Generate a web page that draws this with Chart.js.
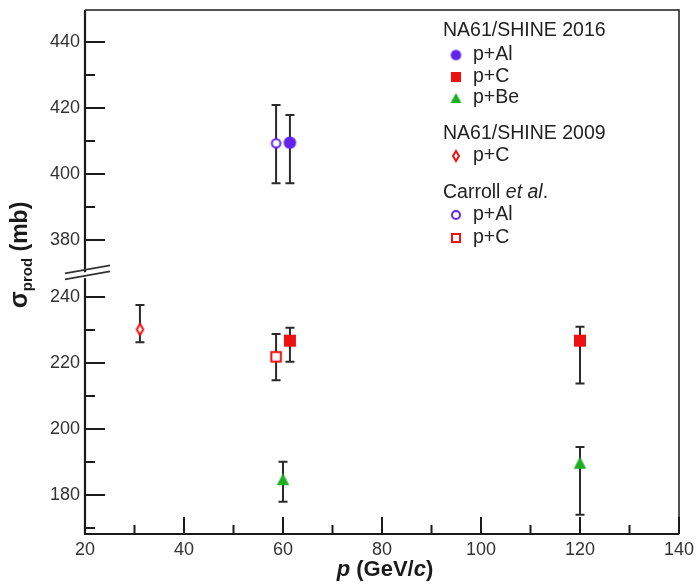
<!DOCTYPE html>
<html><head><meta charset="utf-8">
<script src="https://cdn.jsdelivr.net/npm/chart.js@4"></script>
<style>html,body{margin:0;padding:0;background:#fff}#wrap{width:697px;height:587px;position:relative}</style>
</head><body><div id="wrap"><canvas id="c" width="697" height="587"></canvas></div>
<script>
// ---- tick labels ----
const xTicks = [20, 40, 60, 80, 100, 120, 140];
const xMinor = [30, 50, 70, 90, 110, 130];
const yTicksLower = [180, 200, 220, 240];
const yTicksUpper = [380, 400, 420, 440];
const yMinorLower = [170, 190, 210, 230];
const yMinorUpper = [390, 410, 430];

// ---- data: momentum p (GeV/c), sigma_prod (mb), lower / upper error-bar ends ----
const alP2016 = [61.4];
const alSig2016 = [409.5];
const alLo2016 = [397.2];
const alHi2016 = [417.9];

const cP2016 = [61.4, 120];
const cSig2016 = [226.8, 226.8];
const cLo2016 = [220.4, 213.8];
const cHi2016 = [230.7, 231.0];

const beP2016 = [60, 120];
const beSig2016 = [184.8, 189.8];
const beLo2016 = [178.0, 174.0];
const beHi2016 = [190.1, 194.6];

const cP2009 = [31.1];
const cSig2009 = [230.2];
const cLo2009 = [226.3];
const cHi2009 = [237.6];

const alPCarroll = [58.6];
const alSigCarroll = [409.3];
const alLoCarroll = [397.2];
const alHiCarroll = [420.9];

const cPCarroll = [58.6];
const cSigCarroll = [221.9];
const cLoCarroll = [214.8];
const cHiCarroll = [228.8];

// ---- broken axis ----
const BREAK_SHIFT = 122.7;   // upper segment moved down by this amount
const BREAK_AT = 300;
const toAxis = v => v > BREAK_AT ? v - BREAK_SHIFT : v;
const fromAxis = v => v > 250 ? v + BREAK_SHIFT : v;

const PURPLE = '#6322ee', RED = '#ee1111', GREEN = '#1fae22';
const FONT = "'Liberation Sans', Arial, Helvetica, sans-serif";

function makeMarker(kind, w, h, color, lw) {
  const c = document.createElement('canvas');
  c.width = Math.ceil(w + 4); c.height = Math.ceil(h + 4);
  const g = c.getContext('2d');
  const cx = c.width / 2, cy = c.height / 2;
  g.lineWidth = lw || 2;
  g.strokeStyle = color; g.fillStyle = color;
  g.beginPath();
  if (kind === 'circle' || kind === 'circleOpen') {
    g.arc(cx, cy, kind === 'circle' ? w / 2 : w / 2 - g.lineWidth / 2, 0, Math.PI * 2);
  } else if (kind === 'square' || kind === 'squareOpen') {
    const o = kind === 'square' ? 0 : g.lineWidth / 2;
    g.rect(cx - w / 2 + o, cy - h / 2 + o, w - 2 * o, h - 2 * o);
  } else if (kind === 'triangle') {
    g.moveTo(cx, cy - h / 2); g.lineTo(cx + w / 2, cy + h / 2); g.lineTo(cx - w / 2, cy + h / 2); g.closePath();
  } else if (kind === 'diamondOpen') {
    const a = w / 2 - 1, b = h / 2 - 1;
    g.moveTo(cx, cy - b); g.lineTo(cx + a, cy); g.lineTo(cx, cy + b); g.lineTo(cx - a, cy); g.closePath();
  }
  if (kind.endsWith('Open')) { g.fillStyle = '#fff'; g.fill(); g.stroke(); }
  else g.fill();
  return c;
}

const mk = {
  al2016: makeMarker('circle', 12.5, 12.5, PURPLE),
  c2016: makeMarker('square', 12, 12, RED),
  be2016: makeMarker('triangle', 12.5, 12, GREEN),
  c2009: makeMarker('diamondOpen', 8.5, 13, RED, 2),
  alCar: makeMarker('circleOpen', 10.5, 10.5, PURPLE, 2),
  cCar: makeMarker('squareOpen', 11.5, 11.5, RED, 2)
};
const mkLeg = {
  al2016: makeMarker('circle', 10.5, 10.5, PURPLE),
  c2016: makeMarker('square', 10, 10, RED),
  be2016: makeMarker('triangle', 11, 10, GREEN),
  c2009: makeMarker('diamondOpen', 8, 12, RED, 2),
  alCar: makeMarker('circleOpen', 10, 10, PURPLE, 2),
  cCar: makeMarker('squareOpen', 10, 10, RED, 2)
};

function ds(label, p, sig, lo, hi, marker) {
  return {
    label,
    data: p.map((x, i) => ({ x, y: toAxis(sig[i]) })),
    errLo: lo.map(toAxis), errHi: hi.map(toAxis),
    pointStyle: marker, pointRadius: 7, pointHoverRadius: 7,
    showLine: false
  };
}

const datasets = [
  ds('NA61/SHINE 2009 p+C', cP2009, cSig2009, cLo2009, cHi2009, mk.c2009),
  ds('Carroll et al. p+Al', alPCarroll, alSigCarroll, alLoCarroll, alHiCarroll, mk.alCar),
  ds('Carroll et al. p+C', cPCarroll, cSigCarroll, cLoCarroll, cHiCarroll, mk.cCar),
  ds('NA61/SHINE 2016 p+Al', alP2016, alSig2016, alLo2016, alHi2016, mk.al2016),
  ds('NA61/SHINE 2016 p+C', cP2016, cSig2016, cLo2016, cHi2016, mk.c2016),
  ds('NA61/SHINE 2016 p+Be', beP2016, beSig2016, beLo2016, beHi2016, mk.be2016)
];

const AXIS = '#1a1a1a';

const rootPlugin = {
  id: 'rootStyle',
  beforeDatasetsDraw(chart) {
    const { ctx, chartArea: a, scales: { x, y } } = chart;
    ctx.save();
    // error bars
    ctx.strokeStyle = '#2a2a2a'; ctx.lineWidth = 2;
    chart.data.datasets.forEach((d, di) => {
      const meta = chart.getDatasetMeta(di);
      meta.data.forEach((pt, i) => {
        const px = pt.x;
        const yl = y.getPixelForValue(d.errLo[i]);
        const yh = y.getPixelForValue(d.errHi[i]);
        ctx.beginPath();
        ctx.moveTo(px, yl); ctx.lineTo(px, yh);
        ctx.moveTo(px - 4.5, yl); ctx.lineTo(px + 4.5, yl);
        ctx.moveTo(px - 4.5, yh); ctx.lineTo(px + 4.5, yh);
        ctx.stroke();
      });
    });
    ctx.restore();
  },
  afterDraw(chart) {
    const { ctx, chartArea: a, scales: { x, y } } = chart;
    ctx.save();
    // frame
    ctx.strokeStyle = AXIS;
    ctx.lineWidth = 1.5;
    ctx.beginPath();
    ctx.moveTo(a.left, a.top); ctx.lineTo(a.right, a.top); ctx.lineTo(a.right, a.bottom);
    ctx.stroke();
    ctx.lineWidth = 2.2;
    ctx.beginPath();
    ctx.moveTo(a.left, a.top); ctx.lineTo(a.left, a.bottom); ctx.lineTo(a.right, a.bottom);
    ctx.stroke();
    // ticks (inside)
    ctx.lineWidth = 2;
    ctx.beginPath();
    xTicks.forEach(v => { const px = x.getPixelForValue(v); ctx.moveTo(px, a.bottom); ctx.lineTo(px, a.bottom - 17); });
    xMinor.forEach(v => { const px = x.getPixelForValue(v); ctx.moveTo(px, a.bottom); ctx.lineTo(px, a.bottom - 9); });
    [...yTicksLower, ...yTicksUpper].forEach(v => { const py = y.getPixelForValue(toAxis(v)); ctx.moveTo(a.left, py); ctx.lineTo(a.left + 20, py); });
    [...yMinorLower, ...yMinorUpper].forEach(v => { const py = y.getPixelForValue(toAxis(v)); ctx.moveTo(a.left, py); ctx.lineTo(a.left + 10, py); });
    ctx.stroke();
    // axis break
    const by = y.getPixelForValue(248.4);
    ctx.fillStyle = '#fff';
    ctx.beginPath();
    ctx.moveTo(a.left - 20, by - 0.5 + 7); ctx.lineTo(a.left + 25, by - 0.5 - 1);
    ctx.lineTo(a.left + 25, by + 5.5 - 1); ctx.lineTo(a.left - 20, by + 5.5 + 7); ctx.closePath();
    ctx.fill();
    ctx.strokeStyle = '#333'; ctx.lineWidth = 1.6;
    ctx.beginPath();
    ctx.moveTo(a.left - 20, by + 4); ctx.lineTo(a.left + 25, by - 4);
    ctx.moveTo(a.left - 20, by + 10); ctx.lineTo(a.left + 25, by + 2);
    ctx.stroke();

    // axis titles
    ctx.fillStyle = '#1a1a1a';
    ctx.textBaseline = 'alphabetic';
    const parts = [
      ['italic bold 22px ' + FONT, 'p'],
      ['bold 22px ' + FONT, ' (GeV/'],
      ['italic bold 22px ' + FONT, 'c'],
      ['bold 22px ' + FONT, ')']
    ];
    let tw = 0;
    parts.forEach(p => { ctx.font = p[0]; tw += ctx.measureText(p[1]).width; });
    let cx = 385 - tw / 2;
    parts.forEach(p => { ctx.font = p[0]; ctx.fillText(p[1], cx, 576); cx += ctx.measureText(p[1]).width; });
    ctx.save();
    ctx.translate(27, 255);
    ctx.rotate(-Math.PI / 2);
    const yp = [
      ['bold 25px ' + FONT, 'σ', 0],
      ['bold 15px ' + FONT, 'prod', 5],
      ['bold 23px ' + FONT, ' (mb)', 0]
    ];
    let yw = 0;
    yp.forEach(p => { ctx.font = p[0]; yw += ctx.measureText(p[1]).width; });
    let ty = -yw / 2;
    yp.forEach(p => { ctx.font = p[0]; ctx.fillText(p[1], ty, p[2]); ty += ctx.measureText(p[1]).width; });
    ctx.restore();

    // legend
    const LX = 443, MX = 456, TX = 473;
    ctx.textBaseline = 'middle';
    ctx.fillStyle = '#222';
    const nf = '19.5px ' + FONT, itf = 'italic 19.5px ' + FONT;
    const head = (txt, yy) => { ctx.font = nf; ctx.fillText(txt, LX, yy); };
    const entry = (m, txt, yy) => {
      ctx.drawImage(m, MX - m.width / 2, yy - m.height / 2);
      ctx.font = nf; ctx.fillText(txt, TX, yy);
    };
    head('NA61/SHINE 2016', 31);
    entry(mkLeg.al2016, 'p+Al', 55);
    entry(mkLeg.c2016, 'p+C', 77);
    entry(mkLeg.be2016, 'p+Be', 98);
    head('NA61/SHINE 2009', 134);
    entry(mkLeg.c2009, 'p+C', 156);
    ctx.font = nf; ctx.fillText('Carroll ', LX, 193);
    let w1 = ctx.measureText('Carroll ').width;
    ctx.font = itf; ctx.fillText('et al', LX + w1, 193);
    let w2 = ctx.measureText('et al').width;
    ctx.font = nf; ctx.fillText('.', LX + w1 + w2, 193);
    entry(mkLeg.alCar, 'p+Al', 215);
    entry(mkLeg.cCar, 'p+C', 238);
    ctx.restore();
  }
};

new Chart(document.getElementById('c'), {
  type: 'scatter',
  data: { datasets },
  options: {
    responsive: false,
    animation: false,
    events: [],
    layout: { padding: { left: 0, top: 10, right: 18, bottom: 0 } },
    plugins: { legend: { display: false }, tooltip: { enabled: false }, title: { display: false } },
    scales: {
      x: {
        type: 'linear', min: 20, max: 140,
        afterBuildTicks: s => { s.ticks = xTicks.map(v => ({ value: v })); },
        afterFit: s => { s.height = 53; s.paddingLeft = 0; s.paddingRight = 0; s.paddingTop = 0; s.paddingBottom = 0; },
        grid: { display: false, drawTicks: false },
        border: { display: false },
        ticks: { font: { family: FONT, size: 18 }, color: '#333', padding: 5, maxRotation: 0, autoSkip: false }
      },
      y: {
        type: 'linear', min: 168.2, max: 327,
        afterBuildTicks: s => { s.ticks = [...yTicksLower, ...yTicksUpper].map(v => ({ value: toAxis(v) })); },
        afterFit: s => { s.width = 85; s.paddingTop = 0; s.paddingBottom = 0; s.paddingLeft = 0; s.paddingRight = 0; },
        grid: { display: false, drawTicks: false },
        border: { display: false },
        ticks: {
          font: { family: FONT, size: 18 }, color: '#333', padding: 5, autoSkip: false,
          callback: v => String(Math.round(fromAxis(v)))
        }
      }
    }
  },
  plugins: [rootPlugin]
});
</script>
</body></html>
